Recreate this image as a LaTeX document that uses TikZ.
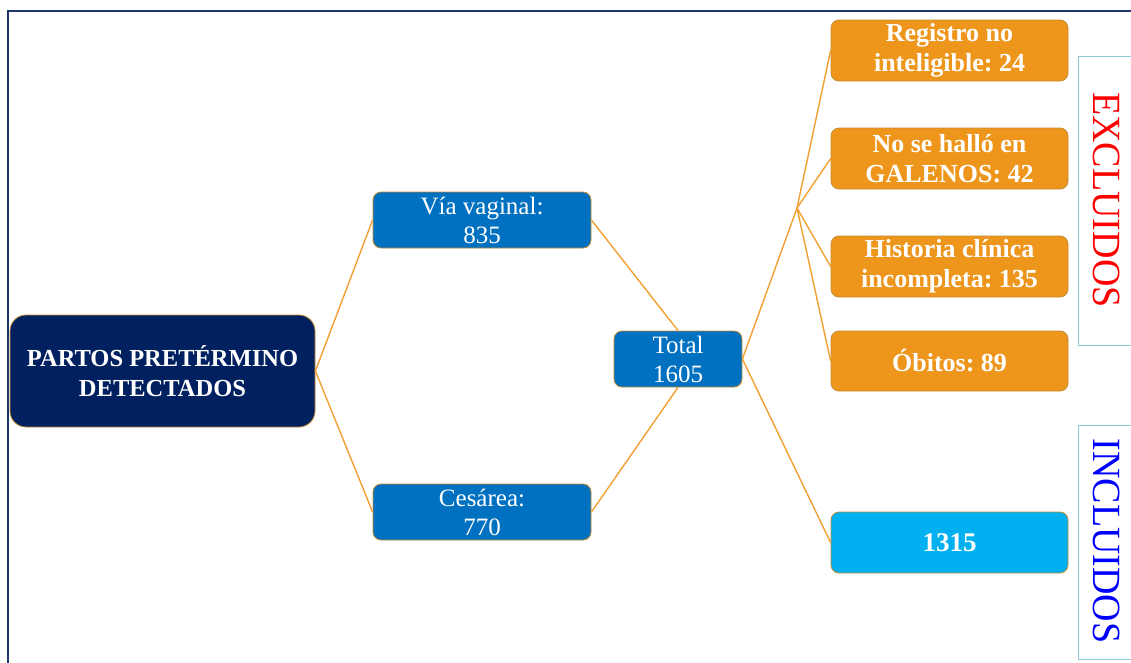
\documentclass[tikz,border=0pt]{standalone}
\usepackage{fontspec}
\setmainfont{Liberation Serif}
\frenchspacing
\definecolor{navy}{RGB}{0,32,96}
\definecolor{mblue}{RGB}{0,112,192}
\definecolor{cyanb}{RGB}{0,176,240}
\definecolor{orng}{RGB}{238,150,28}
\definecolor{lnorng}{RGB}{242,160,50}
\definecolor{bord}{RGB}{196,140,50}
\definecolor{frame}{RGB}{30,52,110}
\definecolor{lbl}{RGB}{140,200,220}
\begin{document}
\begin{tikzpicture}[x=1pt,y=-1pt,
  box/.style={draw=bord,line width=0.8pt,rounded corners=8pt,text=white,align=center,inner sep=0pt},
  mainbox/.style={box,fill=navy,rounded corners=16pt,minimum width=305pt,minimum height=112pt,font=\fontsize{24.5}{30}\selectfont\bfseries},
  bluebox/.style={box,fill=mblue,minimum height=56pt,font=\fontsize{25}{29}\selectfont},
  orbox/.style={box,fill=orng,minimum width=237pt,minimum height=61pt,font=\fontsize{26}{30}\selectfont\bfseries},
  inbox/.style={box,fill=cyanb,minimum width=237pt,minimum height=61pt,font=\fontsize{27}{30}\selectfont\bfseries},
  conn/.style={draw=lnorng,line width=1.4pt},
  tag/.style={rotate=-90,font=\fontsize{40}{40}\selectfont,inner sep=0pt}
]
\useasboundingbox (0,0) rectangle (1131,662);
\clip (0,0) rectangle (1131,662);
\fill[white] (0,0) rectangle (1131,662);
\draw[frame,line width=2.8pt] (8,11) rectangle (1145,680);

\node[mainbox] (main) at (162.5,371) {PARTOS PRETÉRMINO\\DETECTADOS};
\node[bluebox,minimum width=218pt] (via) at (482,220) {Vía vaginal:\\835};
\node[bluebox,minimum width=218pt] (ces) at (482,512) {Cesárea:\\770};
\node[bluebox,minimum width=128pt] (tot) at (678,359) {Total\\1605};
\node[orbox] (reg) at (949.5,50.5) {Registro no\\inteligible: 24};
\node[orbox] (nose) at (949.5,158.5) {No se halló en\\GALENOS: 42};
\node[orbox] (hist) at (949.5,266.5) {Historia clínica\\incompleta: 135};
\node[orbox,minimum height=60pt] (obit) at (949.5,361) {Óbitos: 89};
\node[inbox] (incl) at (949.5,542.5) {1315};

\coordinate (j) at (797,208);

\draw[conn] (main.east) -- (via.west);
\draw[conn] (main.east) -- (ces.west);
\draw[conn] (via.east) -- (tot.north);
\draw[conn] (ces.east) -- (tot.south);
\draw[conn] (tot.east) -- (j);
\draw[conn] (j) -- (reg.west);
\draw[conn] (j) -- (nose.west);
\draw[conn] (j) -- (hist.west);
\draw[conn] (j) -- (obit.west);
\draw[conn] (tot.east) -- (incl.west);

\draw[lbl,line width=1pt] (1140,56) -- (1078,56) -- (1078,345) -- (1140,345);
\draw[lbl,line width=1pt] (1140,425) -- (1078,425) -- (1078,659) -- (1140,659);
\node[tag,text=red] (exc) at (1107,200) {\scalebox{0.95}[1]{EXCLUIDOS}};
\node[tag,text=blue] (inc) at (1107,541) {\scalebox{0.95}[1]{INCLUIDOS}};
\end{tikzpicture}
\end{document}
